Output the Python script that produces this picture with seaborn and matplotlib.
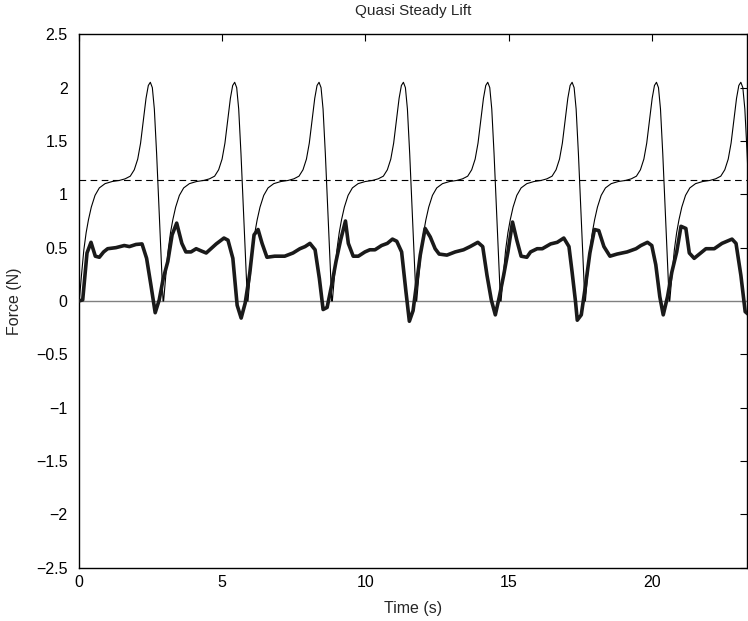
import numpy as np
import pandas as pd
import matplotlib
matplotlib.use("Agg")
import matplotlib.pyplot as plt
import seaborn as sns

# ---- data ----
# measured lift (thick line)
meas_time = [0.00, 0.14, 0.29, 0.43, 0.58, 0.72, 0.87, 1.01, 1.30, 1.59, 1.77, 2.00, 2.21, 2.37, 2.52, 2.67, 2.81,
             2.95, 3.11, 3.26, 3.42, 3.60, 3.74, 3.92, 4.10, 4.27, 4.45, 4.80, 5.07, 5.21, 5.38, 5.53, 5.67, 5.81,
             5.97, 6.12, 6.26, 6.40, 6.57, 6.84, 7.19, 7.48, 7.72, 7.90, 8.07, 8.25, 8.40, 8.53, 8.67, 8.83,
             8.98, 9.14, 9.31, 9.41, 9.58, 9.76, 9.99, 10.16, 10.34, 10.57, 10.77, 10.95, 11.10, 11.27, 11.42,
             11.54, 11.67, 11.77, 11.92, 12.09, 12.27, 12.44, 12.58, 12.85, 13.14, 13.43, 13.66, 13.93, 14.10,
             14.25, 14.40, 14.54, 14.68, 14.83, 14.98, 15.14, 15.29, 15.44, 15.64, 15.77, 16.00, 16.18, 16.47,
             16.70, 16.93, 17.11, 17.22, 17.34, 17.40, 17.54, 17.69, 17.84, 18.00, 18.15, 18.33, 18.54, 18.79,
             19.14, 19.45, 19.62, 19.85, 20.00, 20.14, 20.28, 20.40, 20.55, 20.70, 20.87, 21.02, 21.19, 21.31,
             21.48, 21.71, 21.89, 22.18, 22.45, 22.80, 22.94, 23.11, 23.26, 23.39]
meas_force = [0.00, 0.01, 0.45, 0.55, 0.42, 0.41, 0.46, 0.49, 0.50, 0.52, 0.51, 0.53, 0.535, 0.40, 0.15, -0.11, 0.01,
              0.21, 0.37, 0.62, 0.73, 0.54, 0.46, 0.46, 0.49, 0.47, 0.45, 0.535, 0.59, 0.57, 0.40, -0.04, -0.16, -0.02,
              0.26, 0.62, 0.67, 0.54, 0.41, 0.42, 0.42, 0.45, 0.49, 0.51, 0.54, 0.48, 0.21, -0.08, -0.06, 0.15,
              0.37, 0.57, 0.75, 0.54, 0.42, 0.42, 0.46, 0.48, 0.48, 0.52, 0.54, 0.58, 0.56, 0.46, 0.09,
              -0.19, -0.09, 0.12, 0.43, 0.68, 0.60, 0.49, 0.44, 0.43, 0.46, 0.48, 0.51, 0.55, 0.51,
              0.24, 0.01, -0.13, 0.04, 0.24, 0.46, 0.74, 0.57, 0.42, 0.41, 0.46, 0.49, 0.49, 0.535,
              0.55, 0.59, 0.51, 0.27, -0.01, -0.18, -0.13, 0.15, 0.45, 0.67, 0.66, 0.51, 0.42, 0.44,
              0.46, 0.49, 0.52, 0.55, 0.52, 0.34, 0.04, -0.13, 0.04, 0.27, 0.46, 0.70, 0.68, 0.45,
              0.40, 0.45, 0.49, 0.49, 0.54, 0.58, 0.54, 0.24, -0.10, -0.13]

# quasi steady model (thin line): one stroke cycle as read, repeated at each cycle start
qs_phase = [0.00, 0.02, 0.10, 0.18, 0.26, 0.34, 0.44, 0.57, 0.72, 0.92, 1.17, 1.42, 1.62, 1.80, 1.94, 2.06,
            2.16, 2.26, 2.35, 2.43, 2.50, 2.57, 2.64, 2.72, 2.80, 2.88, 2.944]
qs_force = [0.00, 0.00, 0.25, 0.48, 0.64, 0.76, 0.88, 0.99, 1.06, 1.10, 1.12, 1.13, 1.145, 1.17, 1.23, 1.33,
            1.48, 1.70, 1.90, 2.02, 2.05, 2.00, 1.80, 1.38, 0.88, 0.36, 0.00]
cycle_starts = [0.0, 2.944, 5.888, 8.832, 11.776, 14.72, 17.664, 20.608]

mean_qs = 1.13
x_limits = [0, 23.34]
y_limits = [-2.5, 2.5]
x_ticks = [0, 5, 10, 15, 20]
y_ticks = [-2.5, -2, -1.5, -1, -0.5, 0, 0.5, 1, 1.5, 2, 2.5]
y_tick_labels = ["\u22122.5", "\u22122", "\u22121.5", "\u22121", "\u22120.5", "0",
                 "0.5", "1", "1.5", "2", "2.5"]

# ---- build tables ----
meas_df = pd.DataFrame({"Time": meas_time, "Force": meas_force})
qs_t, qs_f = [], []
for s in cycle_starts:
    for p, f in zip(qs_phase, qs_force):
        qs_t.append(s + p)
        qs_f.append(f)
qs_df = pd.DataFrame({"Time": qs_t, "Force": qs_f})
qs_df = qs_df[qs_df["Time"] <= x_limits[1] + 0.2]

# ---- style ----
sns.set_style("white")
plt.rcParams["font.family"] = ["Liberation Sans", "DejaVu Sans"]
plt.rcParams["axes.unicode_minus"] = True

fig = plt.figure(figsize=(7.48, 6.21), dpi=100)
ax = fig.add_axes([0.1052, 0.0858, 0.8941, 0.859])

ax.axhline(0, color="#808080", lw=1.0, zorder=1)
ax.axhline(mean_qs, color="black", lw=0.8, ls=(0, (6, 4)), zorder=2)
sns.lineplot(data=qs_df, x="Time", y="Force", ax=ax, color="black", lw=0.8, sort=False,
             estimator=None, zorder=3)
sns.lineplot(data=meas_df, x="Time", y="Force", ax=ax, color="#1a1a1a", lw=2.6, sort=False,
             estimator=None, zorder=4)

ax.set_xlim(x_limits)
ax.set_ylim(y_limits)
ax.set_xticks(x_ticks)
ax.set_yticks(y_ticks)
ax.set_yticklabels(y_tick_labels)
ax.tick_params(direction="in", top=True, right=True, length=5, width=0.8,
               labelsize=11.5, colors="black")
ax.tick_params(axis="y", pad=8)
ax.tick_params(axis="x", pad=5)
for sp in ax.spines.values():
    sp.set_visible(True)
    sp.set_color("black")
    sp.set_linewidth(1.0)

ax.set_title("Quasi Steady Lift", fontsize=11, pad=14)
ax.set_xlabel("Time (s)", fontsize=11.5, labelpad=8)
ax.set_ylabel("Force (N)", fontsize=11.5, labelpad=10)

fig.savefig("out.png", dpi=100)
